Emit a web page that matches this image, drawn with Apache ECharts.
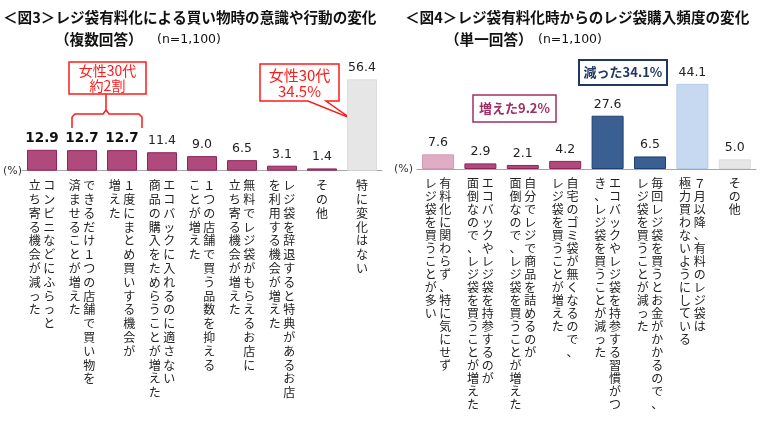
<!DOCTYPE html>
<html><head><meta charset="utf-8">
<script src="https://cdn.jsdelivr.net/npm/echarts@6/dist/echarts.min.js"></script>
<style>html,body{margin:0;padding:0;background:#fff}#c{width:760px;height:435px}</style>
</head><body><div id="c"></div>
<script>
// ---- data ----
const categories1 = [
  "コンビニなどにふらっと\n立ち寄る機会が減った",
  "できるだけ1つの店舗で買い物を\n済ませることが増えた",
  "1度にまとめ買いする機会が\n増えた",
  "エコバックに入れるのに適さない\n商品の購入をためらうことが増えた",
  "1つの店舗で買う品数を抑える\nことが増えた",
  "無料でレジ袋がもらえるお店に\n立ち寄る機会が増えた",
  "レジ袋を辞退すると特典があるお店\nを利用する機会が増えた",
  "その他",
  "特に変化はない"
];
const values1 = [12.9, 12.7, 12.7, 11.4, 9.0, 6.5, 3.1, 1.4, 56.4];
const categories2 = [
  "有料化に関わらず、特に気にせず\nレジ袋を買うことが多い",
  "エコバックやレジ袋を持参するのが\n面倒なので、レジ袋を買うことが増えた",
  "自分でレジで商品を詰めるのが\n面倒なので、レジ袋を買うことが増えた",
  "自宅のゴミ袋が無くなるので、\nレジ袋を買うことが増えた",
  "エコバックやレジ袋を持参する習慣がつ\nき、レジ袋を買うことが減った",
  "毎回レジ袋を買うとお金がかかるので、\nレジ袋を買うことが減った",
  "7月以降、有料のレジ袋は\n極力買わないようにしている",
  "その他"
];
const values2 = [7.6, 2.9, 2.1, 4.2, 27.6, 6.5, 44.1, 5.0];

// ---- styles ----
const PINK = {fill:'#B04A7C', border:'#8E2458'};
const GRAY = {fill:'#E6E6E6', border:'#DCDCDC'};
const LPINK = {fill:'#DFAEC5', border:'#D597B4'};
const NAVY = {fill:'#3A6092', border:'#1F3F72'};
const LBLUE = {fill:'#C6D9F1', border:'#B5CBEA'};
const colors1 = [PINK,PINK,PINK,PINK,PINK,PINK,PINK,PINK,GRAY];
const bold1 = [true,true,true,false,false,false,false,false,false];
const colors2 = [LPINK,PINK,PINK,PINK,NAVY,NAVY,LBLUE,GRAY];

function toFull(s){ return s.replace(/[0-9]/g, d => String.fromCharCode(d.charCodeAt(0)+0xFEE0)); }
function vertical(label){
  const cols = label.split('\n').map(s => Array.from(toFull(s)));
  const n = Math.max(...cols.map(c => c.length));
  const lines = [];
  for (let i = 0; i < n; i++) {
    const parts = [];
    for (let k = cols.length - 1; k >= 0; k--) parts.push(cols[k][i] || '\u3000');
    lines.push(parts.join(' '));
  }
  return lines.join('\n');
}

const FONT = '"Noto Sans CJK JP", "Noto Sans", sans-serif';
const NUMFONT = '"DejaVu Sans", "Noto Sans CJK JP", sans-serif';
const chart = echarts.init(document.getElementById('c'));

const data1 = values1.map((v,i) => ({
  value: v,
  itemStyle: {color: colors1[i].fill, borderColor: colors1[i].border, borderWidth: 1},
  label: bold1[i] ? {fontWeight: 'bold', fontSize: 13.5, color: '#111'} : {}
}));
const data2 = values2.map((v,i) => ({
  value: v,
  itemStyle: {color: colors2[i].fill, borderColor: colors2[i].border, borderWidth: 1}
}));

const axisCommon = {
  type: 'category',
  axisTick: {show: false},
  axisLine: {lineStyle: {color: '#A6A6A6', width: 1}},
  axisLabel: {interval: 0, fontSize: 12, color: '#222', fontFamily: FONT, verticalAlign: 'top', margin: 8, formatter: vertical}
};

const red = '#FF1A1A';
chart.setOption({
  animation: false,
  grid: [
    {left: 22, width: 360, top: 73.5, height: 97.2},
    {left: 416.8, width: 339.2, top: 72.5, height: 96.5}
  ],
  xAxis: [
    Object.assign({}, axisCommon, {gridIndex: 0, data: categories1, axisLabel: Object.assign({}, axisCommon.axisLabel, {lineHeight: 13.8})}),
    Object.assign({}, axisCommon, {gridIndex: 1, data: categories2, axisLabel: Object.assign({}, axisCommon.axisLabel, {lineHeight: 13})})
  ],
  yAxis: [
    {type: 'value', gridIndex: 0, min: 0, max: 60, show: false},
    {type: 'value', gridIndex: 1, min: 0, max: 50, show: false}
  ],
  series: [
    {type: 'bar', xAxisIndex: 0, yAxisIndex: 0, data: data1, barWidth: 30,
     label: {show: true, position: 'top', distance: 5, fontSize: 12.5, color: '#222', fontFamily: NUMFONT, formatter: p => p.value.toFixed(1)}},
    {type: 'bar', xAxisIndex: 1, yAxisIndex: 1, data: data2, barWidth: 32,
     label: {show: true, position: 'top', distance: 5, fontSize: 12.5, color: '#222', fontFamily: NUMFONT, formatter: p => p.value.toFixed(1)}}
  ],
  graphic: [
    {type: 'text', left: 3, top: 10, style: {text: '＜図3＞レジ袋有料化による買い物時の意識や行動の変化', font: 'bold 14.6px ' + FONT, fill: '#111'}},
    {type: 'text', left: 55, top: 32, style: {text: '（複数回答）', font: 'bold 14.6px ' + FONT, fill: '#111'}},
    {type: 'text', left: 157, top: 33, style: {text: '(n=1,100)', font: '12.5px ' + NUMFONT, fill: '#111'}},
    {type: 'text', left: 405, top: 10, style: {text: '＜図4＞レジ袋有料化時からのレジ袋購入頻度の変化', font: 'bold 14.6px ' + FONT, fill: '#111'}},
    {type: 'text', left: 445, top: 32, style: {text: '（単一回答）', font: 'bold 14.6px ' + FONT, fill: '#111'}},
    {type: 'text', left: 538, top: 33, style: {text: '(n=1,100)', font: '12.5px ' + NUMFONT, fill: '#111'}},
    {type: 'text', x: 3, y: 171, style: {text: '(%)', font: '11px ' + NUMFONT, fill: '#333', verticalAlign: 'middle'}},
    {type: 'text', x: 394, y: 169, style: {text: '(%)', font: '11px ' + NUMFONT, fill: '#333', verticalAlign: 'middle'}},
    // panel 1 bracket callout
    {type: 'rect', shape: {x: 69, y: 62, width: 77, height: 32}, style: {fill: '#fff', stroke: red, lineWidth: 1.5}},
    {type: 'text', x: 107.5, y: 78, style: {text: '女性30代\n約2割', font: '14px ' + FONT, fill: red, align: 'center', verticalAlign: 'middle', lineHeight: 15}},
    {type: 'polyline', shape: {points: [[72,128],[72,117],[75,114],[103,114],[106,110],[106,94]]}, style: {stroke: red, lineWidth: 1.5, fill: null}},
    {type: 'polyline', shape: {points: [[106,110],[109,114],[139,114],[142,117],[142,128]]}, style: {stroke: red, lineWidth: 1.5, fill: null}},
    // panel 1 speech callout
    {type: 'polygon', shape: {points: [[260,64],[339,64],[339,101],[326,101],[350,118],[308,101],[260,101]]}, style: {fill: '#fff', stroke: red, lineWidth: 1.5}},
    {type: 'text', x: 299.5, y: 83, style: {text: '女性30代\n34.5%', font: '15px ' + FONT, fill: red, align: 'center', verticalAlign: 'middle', lineHeight: 16}},
    // panel 2 boxes
    {type: 'rect', shape: {x: 473, y: 95, width: 83, height: 27}, style: {fill: '#fff', stroke: '#9E2F63', lineWidth: 1.5}},
    {type: 'text', x: 514.5, y: 108.5, style: {text: '増えた9.2%', font: 'bold 13px ' + FONT, fill: '#9E2F63', align: 'center', verticalAlign: 'middle'}},
    {type: 'rect', shape: {x: 579, y: 60, width: 88, height: 25}, style: {fill: '#fff', stroke: '#1F3864', lineWidth: 2}},
    {type: 'text', x: 623, y: 72.5, style: {text: '減った34.1%', font: 'bold 13px ' + FONT, fill: '#1F3864', align: 'center', verticalAlign: 'middle'}}
  ]
});
</script></body></html>
